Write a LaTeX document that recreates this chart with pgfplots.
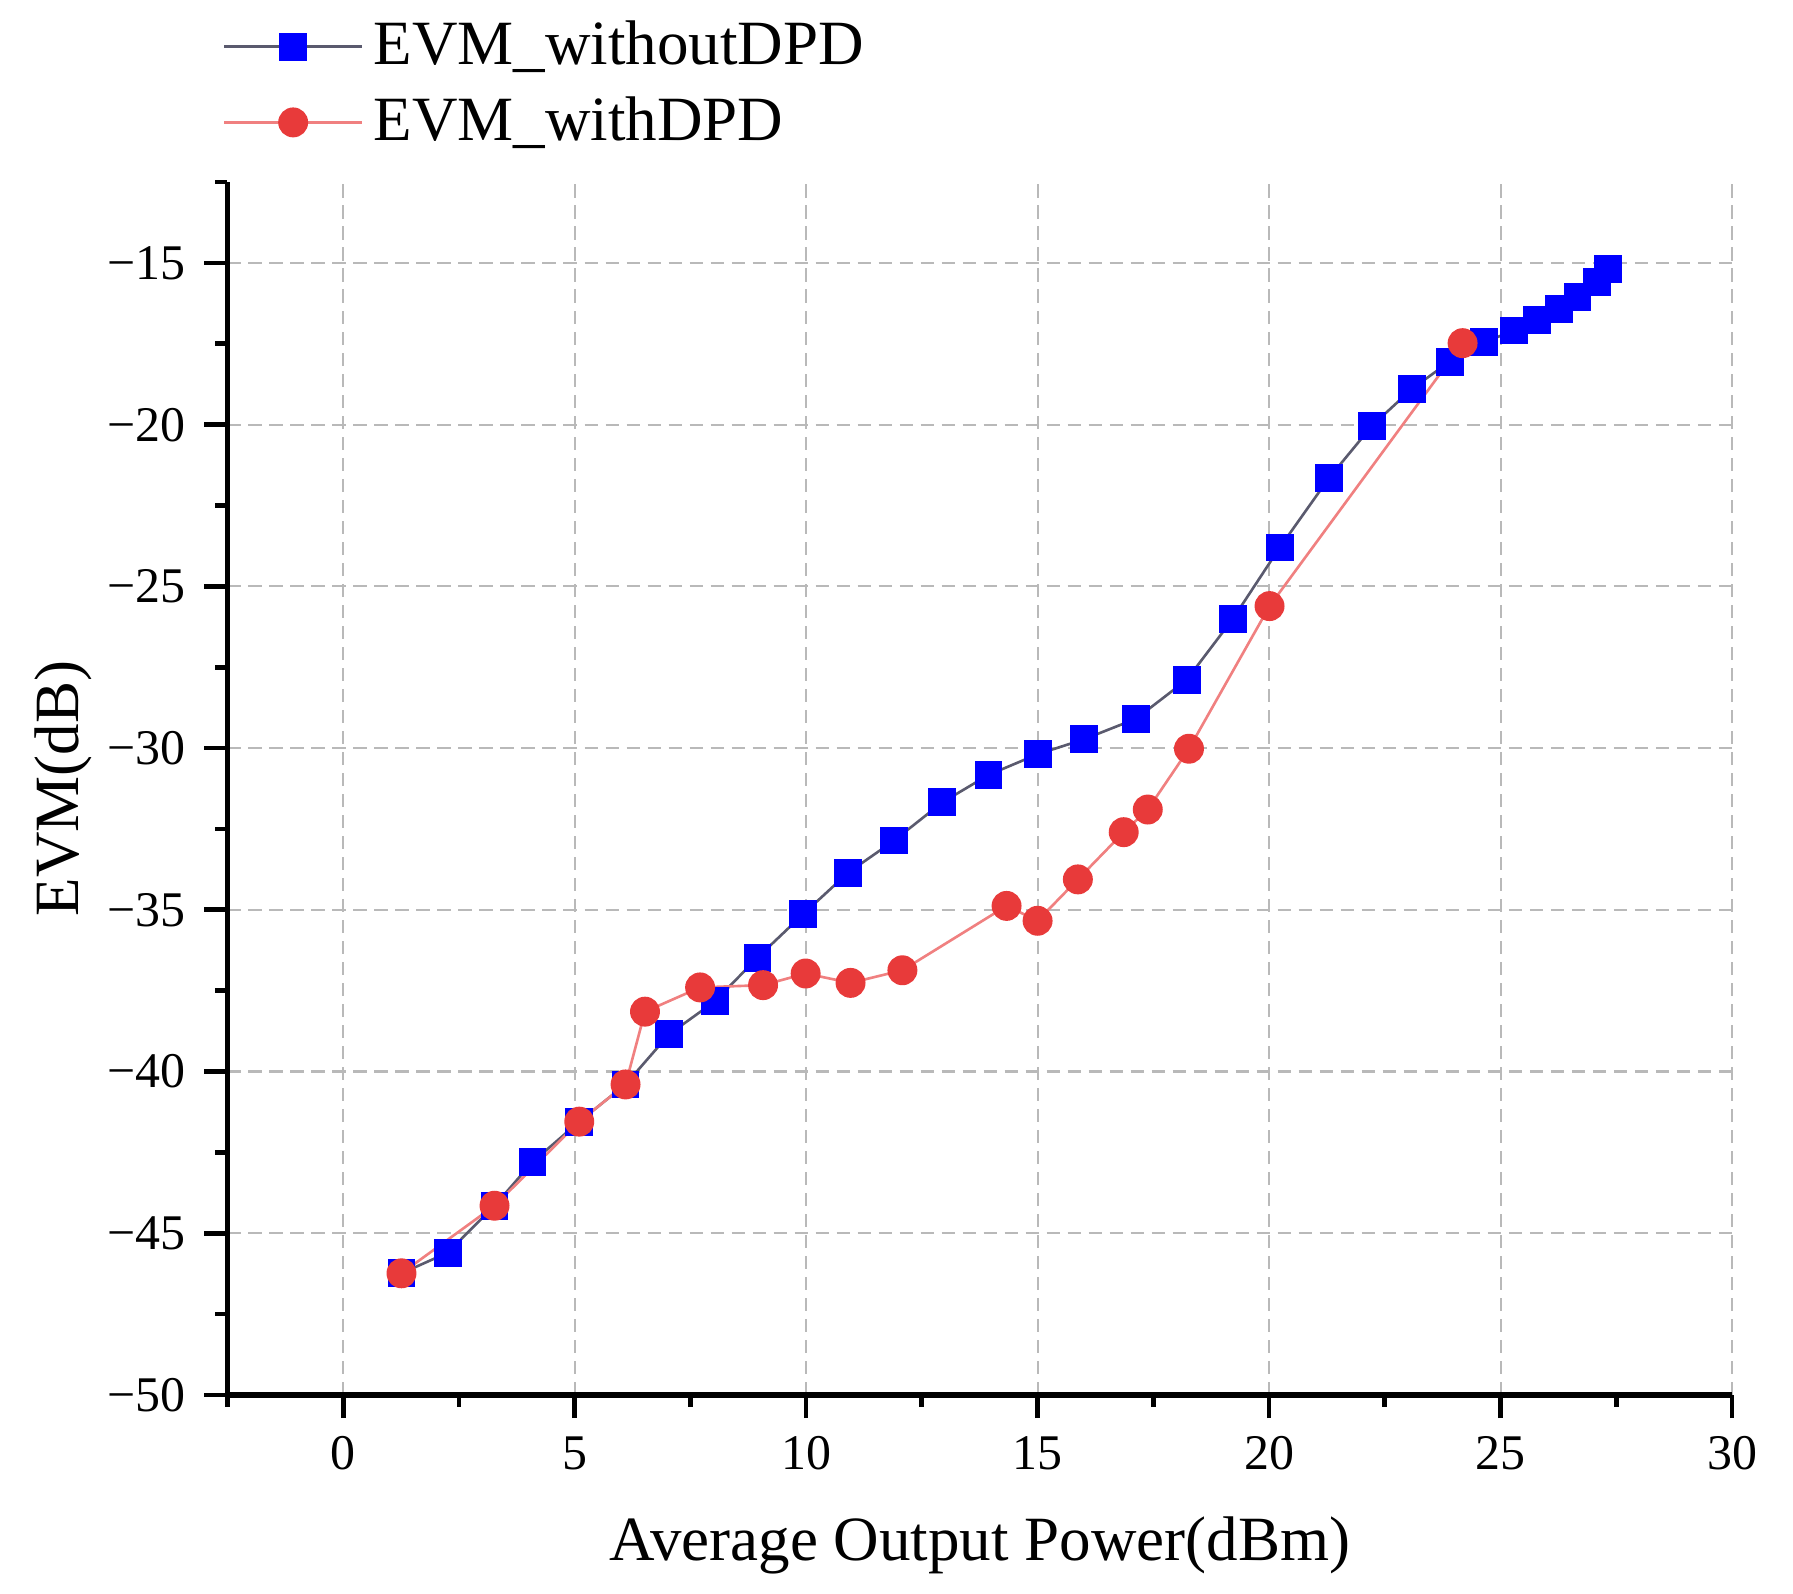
\documentclass[border=0pt]{standalone}
\usepackage{fontspec}
\setmainfont{Liberation Serif}
\usepackage{pgfplots}
\pgfplotsset{compat=1.18}

\definecolor{mkblue}{RGB}{0,0,255}
\definecolor{mkred}{RGB}{232,58,58}
\definecolor{lnred}{RGB}{240,128,128}
\definecolor{lnblue}{RGB}{90,90,110}
\definecolor{gridgray}{RGB}{185,185,185}

\begin{document}
\begin{tikzpicture}
  \begin{axis}[
    name=ax,
    scale only axis,
    width=10.07cm, height=8.117cm,
    xmin=-2.5, xmax=30,
    ymin=-50, ymax=-12.5,
    axis x line*=bottom,
    axis y line*=left,
    axis line style={line width=1pt, black},
    xtick={0,5,...,30},
    ytick={-50,-45,...,-15},
    yticklabels={−50,−45,−40,−35,−30,−25,−20,−15},
    minor xtick={-2.5,2.5,7.5,12.5,17.5,22.5,27.5},
    minor ytick={-47.5,-42.5,-37.5,-32.5,-27.5,-22.5,-17.5,-12.5},
    tick align=outside,
    major tick length=0.155cm,
    minor tick length=0.08cm,
    every tick/.style={black, line width=0.9pt},
    grid=major,
    major grid style={gridgray, line width=0.4pt, dash pattern=on 2.5pt off 1.5pt},
    tick label style={font=\fontsize{9.5}{11}\selectfont},
    /pgf/number format/assume math mode=true,
    xlabel={Average Output Power(dBm)},
    ylabel={EVM(dB)},
    label style={font=\fontsize{12}{14}\selectfont},
    xlabel style={at={(axis description cs:0.5,-0.124)}, anchor=center},
    ylabel style={at={(axis description cs:-0.109,0.5)}, anchor=center},
    legend style={draw=none, fill=none, at={(axis description cs:-0.014,1.151)}, anchor=north west,
      font=\fontsize{12}{14}\selectfont, row sep=0.02cm},
    legend cell align=left,
    legend image code/.code={
      \draw[mark repeat=2, mark phase=2] plot coordinates {(0cm,0cm) (0.46cm,0cm) (0.92cm,0cm)};
    },
    clip=false,
  ]
    \addplot [lnblue, line width=0.5pt, mark=square*, mark size=2.4pt,
      mark options={solid, fill=mkblue, draw=mkblue}] coordinates {
      (1.26,-46.24) (2.26,-45.60) (3.27,-44.15) (4.09,-42.80) (5.10,-41.55)
      (6.10,-40.40) (7.04,-38.85) (8.03,-37.83) (8.95,-36.48) (9.94,-35.13)
      (10.91,-33.85) (11.90,-32.86) (12.94,-31.68) (13.94,-30.83) (15.00,-30.19)
      (16.00,-29.73) (17.13,-29.09) (18.22,-27.89) (19.22,-26.00) (20.23,-23.80)
      (21.30,-21.64) (22.22,-20.04) (23.08,-18.90) (23.90,-18.05) (24.65,-17.45)
      (25.29,-17.09) (25.79,-16.77) (26.26,-16.42) (26.66,-16.06) (27.08,-15.60)
      (27.32,-15.18)
    };
    \addlegendentry{EVM\_withoutDPD}
    \addplot [lnred, line width=0.5pt, mark=*, mark size=2.6pt,
      mark options={solid, fill=mkred, draw=mkred}] coordinates {
      (1.26,-46.24) (3.27,-44.15) (5.10,-41.55) (6.10,-40.40) (6.52,-38.15)
      (7.71,-37.40) (9.07,-37.33) (9.99,-36.97) (10.96,-37.26) (12.08,-36.87)
      (14.33,-34.88) (15.00,-35.34) (15.87,-34.06) (16.86,-32.60) (17.38,-31.90)
      (18.27,-30.02) (20.01,-25.61) (24.18,-17.48)
    };
    \addlegendentry{EVM\_withDPD}
  \end{axis}
  \path (ax.south west) ++(-1.522cm,-1.33cm) coordinate (bl);
  \path (ax.south west) ++(10.478cm,9.318cm) coordinate (tr);
  \path[use as bounding box] (bl) rectangle (tr);
\end{tikzpicture}
\end{document}
